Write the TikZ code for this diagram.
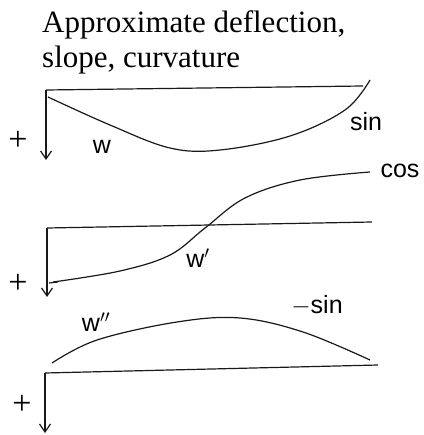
\documentclass[tikz,border=0pt]{standalone}
\usepackage{fontspec}
\setmainfont{Liberation Serif}
\newfontfamily\handfont{Liberation Sans}
\usetikzlibrary{arrows.meta, positioning}

\begin{document}
\begin{tikzpicture}[
    x=1pt, y=-1pt,
    >={Straight Barb[length=8pt, width=11pt]},
    ink/.style={line width=1.2pt, black!90},
    axis/.style={ink, ->},
    title/.style={font=\fontsize{31}{35}\selectfont, anchor=base west, inner sep=0pt},
    hand/.style={font=\handfont\fontsize{25}{27}\selectfont, inner sep=0pt},
    sign/.style={font=\fontsize{34}{34}\selectfont, inner sep=0pt},
  ]
  \useasboundingbox (0,0) rectangle (423,435);
  \node[title] (t1) at (42,33) {Approximate deflection,};
  \node[title] (t2) at (42,68) {slope, curvature};

  % deflection
  \coordinate (a0) at (46,90);
  \coordinate (b0) at (363,86);
  \coordinate (d0) at (46,160);
  \draw[ink] (a0) -- (b0);
  \draw[axis] (a0) -- (d0);
  \draw[ink] plot[smooth, tension=0.6] coordinates {(48,97) (110,125) (170,148) (220,150) (290,136) (345,110) (370,80)};
  \node[sign] (p0) at (18,141) {+};
  \node[hand] (w0) at (102,147) {w};
  \node[hand] (s0) at (366,122) {sin};

  % slope
  \coordinate (a1) at (47,228);
  \coordinate (b1) at (372,222);
  \coordinate (d1) at (47,297);
  \draw[ink] (a1) -- (b1);
  \draw[axis] (a1) -- (d1);
  \draw[ink] (49,283) -- (58,282);
  \draw[ink] plot[smooth, tension=0.6] coordinates {(53,282) (120,271) (170,255) (205,228) (245,198) (300,180) (370,172)};
  \node[sign] (p1) at (18,284) {+};
  \node[hand] (w1) at (198,258) {w$'$};
  \node[hand] (c1) at (400,171) {cos};

  % curvature
  \coordinate (a2) at (45,373);
  \coordinate (b2) at (378,365);
  \coordinate (d2) at (45,433);
  \draw[ink] (a2) -- (b2);
  \draw[axis] (a2) -- (d2);
  \draw[ink] plot[smooth, tension=0.6] coordinates {(52,363) (97,340) (177,322) (240,318) (303,332) (370,360)};
  \node[sign] (p2) at (22,405) {+};
  \node[hand] (w2) at (96,322) {w$''$};
  \node[hand] (s2) at (317,305) {$-$sin};
\end{tikzpicture}
\end{document}
